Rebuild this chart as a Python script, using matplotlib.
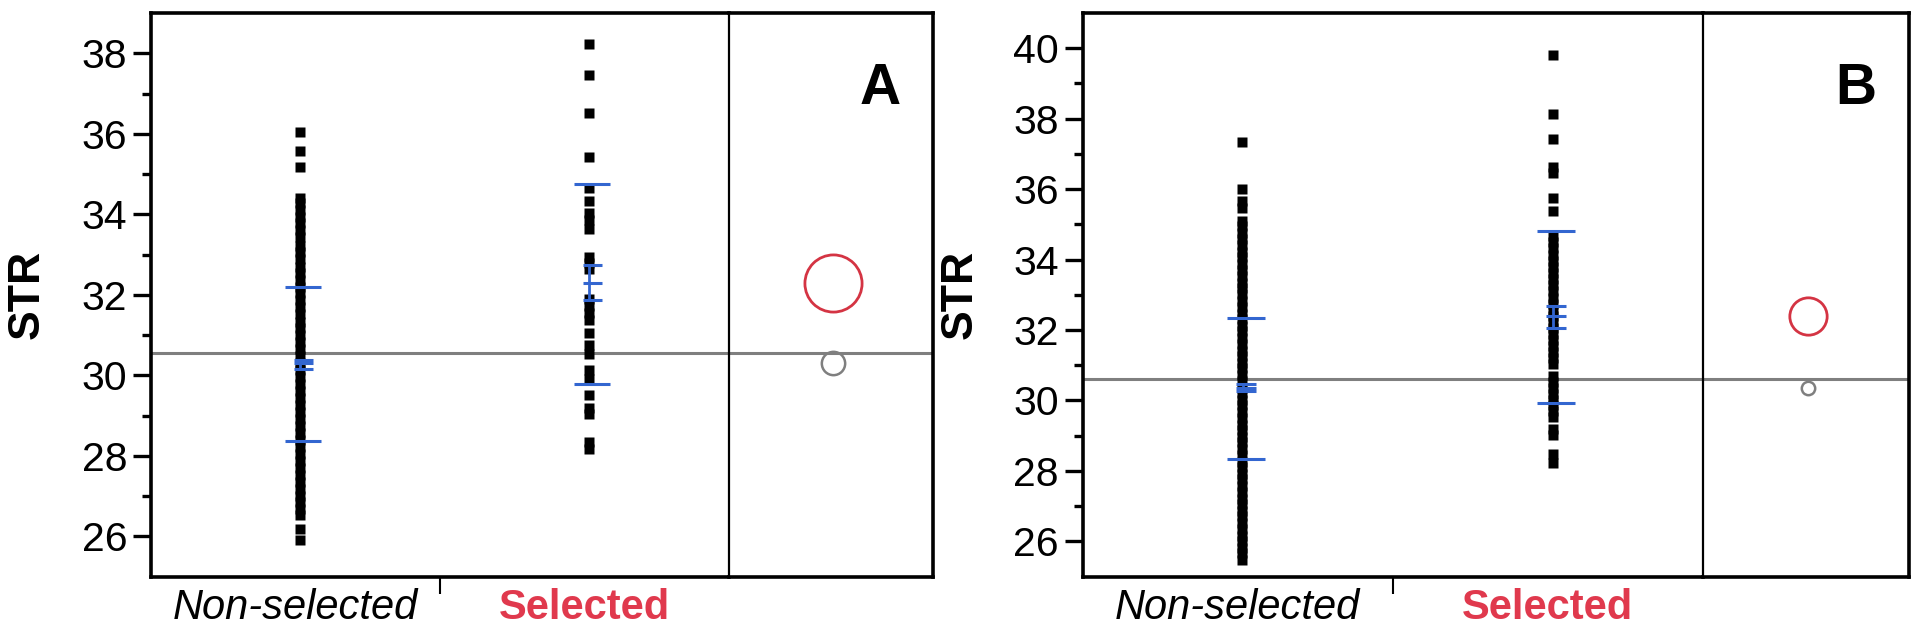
import numpy as np
import matplotlib
matplotlib.use("Agg")
import matplotlib.pyplot as plt

plt.rcParams['font.family'] = ['Liberation Sans', 'DejaVu Sans']

# ---------------- data ----------------
categories = ["Non-selected", "Selected"]
panel_letters = ["A", "B"]
y_label = "STR"

a_nonselected = [36.04, 35.57, 35.18,
                 34.41, 34.27, 34.10, 33.94, 33.79, 33.60, 33.44, 33.21, 33.05, 32.88,
                 32.70, 32.55, 32.37, 32.20, 32.04, 31.86, 31.69, 31.52, 31.33, 31.17,
                 31.00, 30.82, 30.66, 30.48, 30.31, 30.13, 29.96, 29.79, 29.61, 29.44,
                 29.27, 29.09, 28.92, 28.74, 28.57, 28.40, 28.22, 28.05, 27.88, 27.70,
                 27.53, 27.36, 27.18, 27.01, 26.84, 26.68, 26.53,
                 26.17, 25.91]
a_selected = [38.22, 37.45, 36.51, 35.42, 34.64, 34.33, 34.02, 33.85, 33.63,
              32.94, 32.78, 32.64, 31.90, 31.72, 31.55, 31.38, 31.06, 30.74, 30.52,
              30.12, 29.90, 29.50, 29.19, 29.03, 28.34, 28.16]

b_nonselected = [37.34, 36.01, 35.65, 35.47,
                 35.10, 34.94, 34.74, 34.59, 34.41, 34.21, 34.06, 33.88, 33.69, 33.53,
                 33.34, 33.18, 33.01, 32.81, 32.66, 32.46, 32.31, 32.12, 31.96, 31.77,
                 31.61, 31.41, 31.26, 31.06, 30.91, 30.72, 30.56, 30.36, 30.21, 30.01,
                 29.86, 29.66, 29.51, 29.31, 29.16, 28.96, 28.81, 28.61, 28.46, 28.26,
                 28.11, 27.91, 27.76, 27.56, 27.41, 27.21, 27.06, 26.86, 26.71, 26.51,
                 26.36, 26.16, 26.01, 25.81, 25.66, 25.48]
b_selected = [39.82, 38.14, 37.41, 36.63, 36.46, 35.74, 35.38,
              34.67, 34.49, 34.33, 34.14, 33.97, 33.80, 33.61, 33.45, 33.27, 33.10,
              32.91, 32.75, 32.57, 32.40, 32.22, 32.06, 31.88, 31.71, 31.54, 31.37,
              31.20, 31.04,
              30.70, 30.53, 30.36, 30.19, 30.02, 29.86, 29.69, 29.53,
              29.19, 29.01, 28.47, 28.21]

# group statistics: mean, std-dev lines, confidence interval of the mean
a_mean = [30.30, 32.28]
a_sd_low = [28.37, 29.78]
a_sd_high = [32.20, 34.76]
a_ci_low = [30.16, 31.88]
a_ci_high = [30.38, 32.74]
a_circle_radius = [0.29, 0.71]
a_grand_mean = 30.56

b_mean = [30.36, 32.40]
b_sd_low = [28.35, 29.93]
b_sd_high = [32.33, 34.81]
b_ci_low = [30.27, 32.07]
b_ci_high = [30.47, 32.69]
b_circle_radius = [0.19, 0.53]
b_grand_mean = 30.62

a_ylim = (25, 39)
b_ylim = (25, 41)

# ---------------- style ----------------
W, H = 1919, 633
BLUE = '#3366d0'
RED_TEXT = '#e0394d'
RED_CIRCLE = '#d43443'
GRAY = '#7f7f7f'
circle_colors = [GRAY, RED_CIRCLE]
SPINE_W = 2.6

fig = plt.figure(figsize=(W / 100, H / 100), dpi=100)


def px_axes(left, right, top, bottom):
    return fig.add_axes([left / W, 1 - bottom / H, (right - left) / W, (bottom - top) / H])


def draw_panel(main_box, circ_box, ylim, groups, means, sd_lo, sd_hi, ci_lo, ci_hi,
               radii, grand, letter, ylabel_x):
    axm = px_axes(*main_box)
    axc = px_axes(*circ_box)
    for ax in (axm, axc):
        ax.set_ylim(*ylim)
        for s in ax.spines.values():
            s.set_linewidth(SPINE_W)
            s.set_color('black')
        ax.axhline(grand, color=GRAY, lw=2.2, zorder=2)

    axm.set_xlim(0, len(categories))
    axc.set_xlim(0, 1)
    axm.spines['right'].set_visible(False)
    axc.spines['left'].set_linewidth(1.6)

    # points
    for i, vals in enumerate(groups):
        xs = np.full(len(vals), i + 0.5 + 0.015)
        axm.plot(xs, vals, 's', ms=6.8, mec='none', color='black', zorder=3)

    # mean / sd / ci marks
    for i in range(len(categories)):
        x0 = i + 0.5 + 0.027
        axm.hlines([sd_lo[i], sd_hi[i]], x0 - 0.062, x0 + 0.062, color=BLUE, lw=2.2, zorder=4)
        axm.hlines([ci_lo[i], means[i], ci_hi[i]], x0 - 0.032, x0 + 0.032, color=BLUE, lw=2.2, zorder=4)
        axm.vlines(x0 - 0.01, ci_lo[i], ci_hi[i], color=BLUE, lw=2.0, zorder=4)

    # comparison circles
    fig.canvas.draw()
    p0 = axc.transData.transform((0, ylim[0]))
    p1 = axc.transData.transform((0, ylim[0] + 1))
    ppu = abs(p1[1] - p0[1])
    for i in range(len(categories)):
        ms = 2 * radii[i] * ppu * 72 / 100
        axc.plot([0.51], [means[i]], 'o', ms=ms, mfc='none', mec=circle_colors[i],
                 mew=2.0 if i else 1.8, zorder=5)

    # ticks
    yt = np.arange(ylim[0] + 1, ylim[1], 2)
    axm.set_yticks(yt)
    axm.set_yticks(np.arange(ylim[0] + 2, ylim[1], 2), minor=True)
    axm.tick_params(axis='y', which='major', length=13, width=2.4, labelsize=29.5, pad=4,
                    direction='out')
    axm.tick_params(axis='y', which='minor', length=6.5, width=2.4, direction='out')
    axm.set_xticks(np.arange(len(categories)) + 0.5, categories)
    axm.set_xticks([1.0], minor=True)
    axm.tick_params(axis='x', which='major', length=0, pad=8, labelsize=30)
    axm.tick_params(axis='x', which='minor', length=12, width=1.5)
    labs = axm.get_xticklabels()
    labs[0].set_fontstyle('italic')
    labs[0].set_color('black')
    labs[1].set_fontweight('bold')
    labs[1].set_color(RED_TEXT)

    axc.set_xticks([])
    axc.tick_params(axis='y', left=False, labelleft=False)

    axc.text(0.74, 0.838, letter, transform=axc.transAxes, fontsize=41,
             fontweight='bold', ha='center', va='baseline')
    fig.text(ylabel_x / W, 1 - ((main_box[2] + main_box[3]) / 2) / H, y_label,
             rotation=90, fontsize=32, fontweight='bold', ha='center', va='center')


draw_panel((151, 729, 13, 576.5), (729, 933, 13, 576.5), a_ylim,
           [a_nonselected, a_selected], a_mean, a_sd_low, a_sd_high, a_ci_low, a_ci_high,
           a_circle_radius, a_grand_mean, panel_letters[0], 27)
draw_panel((1082.5, 1703, 13, 576.5), (1703, 1909, 13, 576.5), b_ylim,
           [b_nonselected, b_selected], b_mean, b_sd_low, b_sd_high, b_ci_low, b_ci_high,
           b_circle_radius, b_grand_mean, panel_letters[1], 960)

fig.savefig('out.png', dpi=100)
